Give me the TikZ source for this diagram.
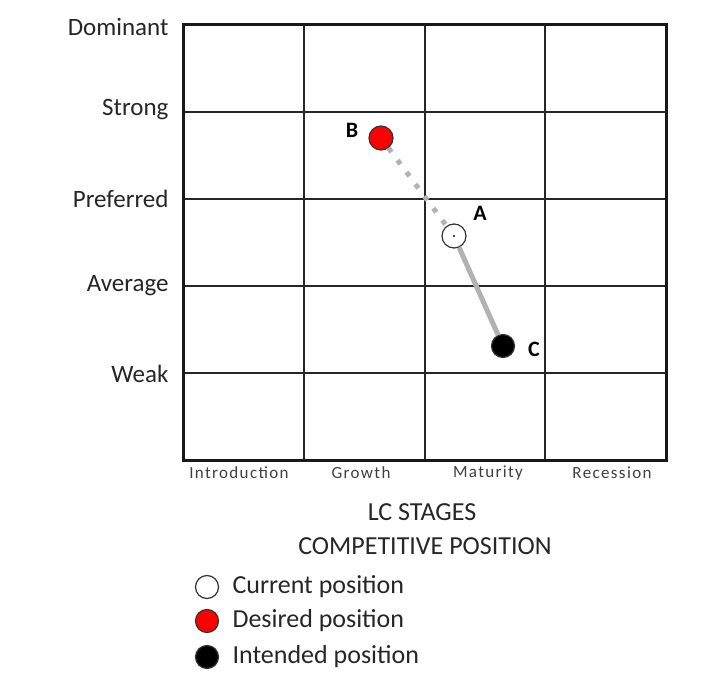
\documentclass[tikz,border=0pt]{standalone}
\usepackage{fontspec}
\setmainfont{Carlito}
\begin{document}
\begin{tikzpicture}[x=1pt,y=-1pt,
  ylab/.style={anchor=east,font=\fontsize{25}{25}\selectfont,text=black!85},
  xlab/.style={font=\fontsize{17}{17}\selectfont\addfontfeature{LetterSpace=8},text=black!75},
  captxt/.style={font=\fontsize{26}{26}\selectfont,text=black!85},
  leg/.style={anchor=west,font=\fontsize{26}{26}\selectfont,text=black!85},
  ptnode/.style={circle,draw=black!80,line width=1.2pt,minimum size=24pt,inner sep=0pt},
  ptlab/.style={font=\bfseries\fontsize{22}{22}\selectfont},
  gridln/.style={line width=2pt,black!85},
  legpt/.style={circle,draw=black!80,line width=1.2pt,minimum size=23pt,inner sep=0pt}]
\useasboundingbox (0,0) rectangle (702,677);
% grid
\foreach \x in {304,425,545} \draw[gridln] (\x,25) -- (\x,460);
\foreach \y in {112,199,286,373} \draw[gridln] (183,\y) -- (666,\y);
\draw[line width=3pt,black!90] (183,25) rectangle (666,460);
% y labels
\node[ylab] (yd) at (172,27) {Dominant};
\node[ylab] (ys) at (172,110) {Strong};
\node[ylab] (yp) at (172,199) {Preferred};
\node[ylab] (ya) at (172,286) {Average};
\node[ylab] (yw) at (172,374) {Weak};
% x labels
\node[xlab] (xi) at (239,473) {Introduction};
\node[xlab] (xg) at (361,473) {Growth};
\node[xlab] (xm) at (488,473) {Maturity};
\node[xlab] (xr) at (612,473) {Recession};
\node[captxt] (lc) at (422,512) {LC STAGES};
\node[captxt] (cp) at (425,546) {COMPETITIVE POSITION};
% points
\node[ptnode,fill=red] (B) at (381,138) {};
\node[ptnode,fill=white] (A) at (454,236) {};
\fill (A.center) circle (1.2pt);
\node[ptnode,fill=black,minimum size=23pt] (C) at (503,346) {};
\draw[line width=5pt,black!30,dash pattern=on 5pt off 10pt] (B) -- (A);
\draw[line width=5pt,black!30] (A) -- (C);
\node[ptlab] (lB) at (352,130) {B};
\node[ptlab] (lA) at (480,213) {A};
\node[ptlab] (lC) at (534,349) {C};
% legend
\node[legpt,fill=white] (l1) at (207,587) {};
\node[legpt,fill=red] (l2) at (207,621) {};
\node[legpt,fill=black] (l3) at (207,657) {};
\node[leg] (t1) at (229,587) {Current position};
\node[leg] (t2) at (229,621) {Desired position};
\node[leg] (t3) at (229,657) {Intended position};
\end{tikzpicture}
\end{document}
